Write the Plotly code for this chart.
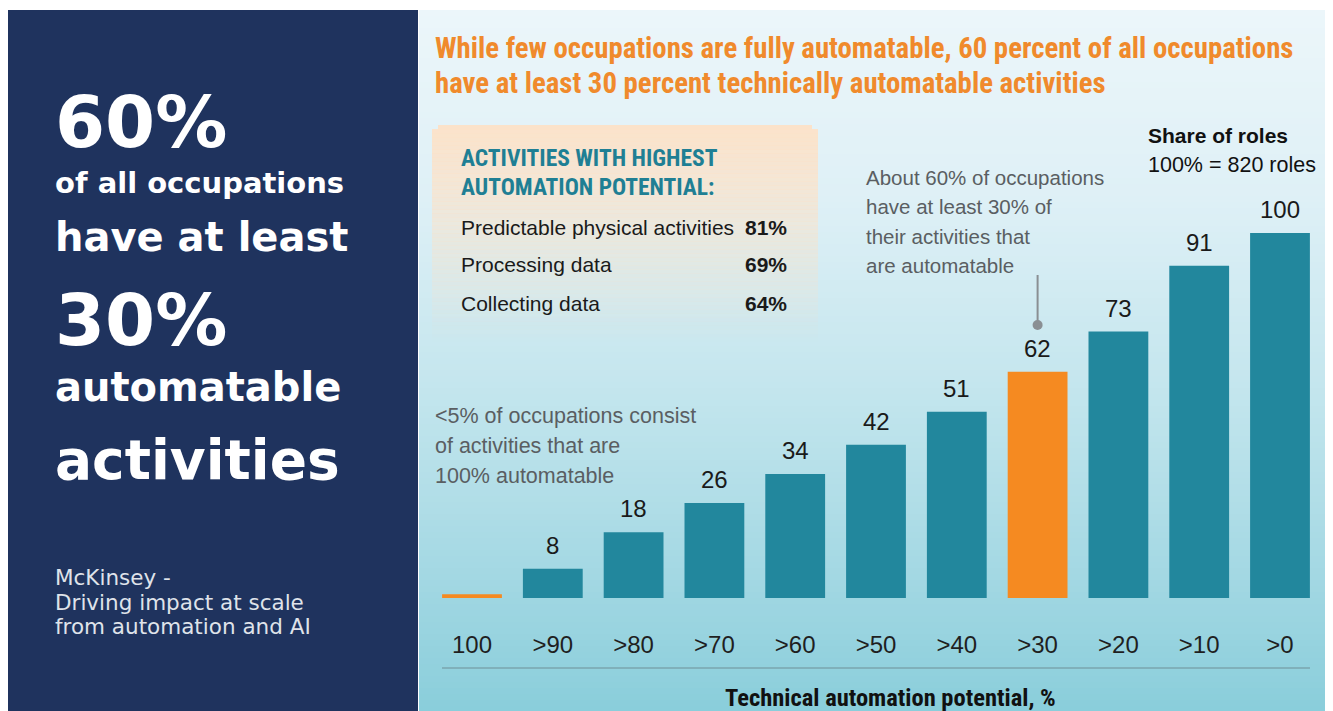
import plotly.graph_objects as go

W, H = 1333, 711
OFF = 8  # page body margin of the browser

categories = ["100", ">90", ">80", ">70", ">60", ">50", ">40", ">30", ">20", ">10", ">0"]
share_of_roles = [1, 8, 18, 26, 34, 42, 51, 62, 73, 91, 100]
highlight = [True, False, False, False, False, False, False, True, False, False, False]

box_items = ["Predictable physical activities", "Processing data", "Collecting data"]
box_values = ["81%", "69%", "64%"]

TEAL = "#22879d"
ORANGE = "#f58a21"
NAVY = "#1f335e"
NARROW = "Liberation Sans Narrow, Roboto Condensed, Arial Narrow, Roboto, sans-serif"
SANS = "Liberation Sans, Arial, Helvetica, sans-serif"
VERD = "DejaVu Sans, Verdana, sans-serif"


def px(x):
    return (x - OFF) / W


def py(y):
    return 1 - (y - OFF) / H


def lerp(c1, c2, t):
    return tuple(round(a + (b - a) * t) for a, b in zip(c1, c2))


shapes = []

# left navy panel
shapes.append(dict(type="rect", xref="paper", yref="paper", x0=0, x1=px(418),
                   y0=0, y1=py(10), fillcolor=NAVY, line=dict(width=0), layer="below"))

# right panel vertical gradient
stops = [(10, (236, 246, 250)), (200, (222, 240, 246)), (400, (194, 229, 237)),
         (560, (166, 217, 228)), (720, (136, 205, 218))]
step = 6
y = 10
while y < 720:
    yc = y + step / 2
    c = stops[-1][1]
    for i in range(len(stops) - 1):
        if stops[i][0] <= yc <= stops[i + 1][0]:
            t = (yc - stops[i][0]) / (stops[i + 1][0] - stops[i][0])
            c = lerp(stops[i][1], stops[i + 1][1], t)
            break
    shapes.append(dict(type="rect", xref="paper", yref="paper", x0=px(419), x1=1,
                       y0=max(py(y + step + 0.5), 0), y1=py(y), fillcolor="rgb(%d,%d,%d)" % c,
                       line=dict(width=0), layer="below"))
    y += step

# peach callout box fading downward
by0, by1 = 125, 342
y = by0
while y < by1:
    t = (y - by0) / (by1 - by0)
    a = 0.92 * (1 - t) ** 1.1
    inset = 6 if y < by0 + 4 else 0
    shapes.append(dict(type="rect", xref="paper", yref="paper", x0=px(432 + inset), x1=px(818 - inset),
                       y0=py(min(y + 4.5, by1)), y1=py(y), fillcolor="rgba(253,225,198,%.3f)" % a,
                       line=dict(width=0), layer="below"))
    y += 4

# axis baseline under tick labels
shapes.append(dict(type="line", xref="paper", yref="paper", x0=px(442), x1=px(1310),
                   y0=py(668), y1=py(668), line=dict(color="#6f8f98", width=1.2)))

# connector lines with dots
for cat, ytop, ybot in [("100", 494, 546), (">30", 275, 325)]:
    shapes.append(dict(type="line", xref="x", yref="paper", x0=cat, x1=cat,
                       y0=py(ybot), y1=py(ytop), line=dict(color="#8a8f93", width=2)))
    shapes.append(dict(type="circle", xref="x", yref="paper", xsizemode="pixel", ysizemode="pixel",
                       xanchor=cat, yanchor=py(ybot), x0=-5, x1=5, y0=-5, y1=5,
                       fillcolor="#8a8f93", line=dict(width=0)))

fig = go.Figure()
fig.add_trace(go.Bar(
    x=categories, y=share_of_roles,
    marker=dict(color=[ORANGE if h else TEAL for h in highlight], line=dict(width=0)),
    width=0.74, hoverinfo="x+y",
))

annotations = []
# bar value labels
for c, v in zip(categories, share_of_roles):
    annotations.append(dict(x=c, y=v, xref="x", yref="y", text=str(v), showarrow=False,
                            yanchor="bottom", yshift=8,
                            font=dict(family=SANS, size=24, color="#1a1a1a")))


def txt(x, y, s, size, color, family=SANS, xanchor="left", bold=False):
    if bold:
        s = "<b>" + s + "</b>"
    annotations.append(dict(x=px(x), y=py(y), xref="paper", yref="paper", text=s, showarrow=False,
                            xanchor=xanchor, yanchor="middle",
                            font=dict(family=family, size=size, color=color)))


# left panel
txt(53, 122, "60%", 72, "white", VERD, bold=True)
txt(53, 183, "of all occupations", 29, "white", VERD, bold=True)
txt(53, 237, "have at least", 40, "white", VERD, bold=True)
txt(53, 320, "30%", 72, "white", VERD, bold=True)
txt(53, 387, "automatable", 40, "white", VERD, bold=True)
txt(53, 460, "activities", 55, "white", VERD, bold=True)
txt(53, 577, "McKinsey -", 21.5, "#dfe3ea", VERD)
txt(53, 602, "Driving impact at scale", 21.5, "#dfe3ea", VERD)
txt(53, 626, "from automation and AI", 21.5, "#dfe3ea", VERD)

# title
txt(433, 48, "While few occupations are fully automatable, 60 percent of all occupations", 28.8, "#f08a2c", NARROW, bold=True)
txt(433, 83, "have at least 30 percent technically automatable activities", 28.8, "#f08a2c", NARROW, bold=True)

# callout box
txt(459, 158, "ACTIVITIES WITH HIGHEST", 23.5, "#1f7f94", NARROW, bold=True)
txt(459, 187, "AUTOMATION POTENTIAL:", 23.5, "#1f7f94", NARROW, bold=True)
for i, (item, val) in enumerate(zip(box_items, box_values)):
    yy = 227 + i * 38
    txt(459, yy, item, 21, "#1a1a1a")
    txt(789, yy, val, 21, "#1a1a1a", xanchor="right", bold=True)

# share of roles
txt(1146, 136, "Share of roles", 21, "#111111", bold=True)
txt(1146, 165, "100% = 820 roles", 21.5, "#111111")

# about 60% note
for i, line in enumerate(["About 60% of occupations", "have at least 30% of",
                          "their activities that", "are automatable"]):
    txt(864, 177 + i * 29.5, line, 20.5, "#5a5e62")

# <5% note
for i, line in enumerate(["<5% of occupations consist", "of activities that are", "100% automatable"]):
    txt(433, 416 + i * 30, line, 21.5, "#5a5e62")

# axis title
txt(890, 697, "Technical automation potential, %", 24.5, "#111111", NARROW, xanchor="center", bold=True)

fig.update_layout(
    width=W, height=H,
    margin=dict(l=0, r=0, t=0, b=0),
    paper_bgcolor="white", plot_bgcolor="rgba(0,0,0,0)",
    showlegend=False,
    shapes=shapes, annotations=annotations,
    xaxis=dict(domain=[px(431.6), px(1320.4)], range=[-0.5, 10.5], showgrid=False, zeroline=False,
               showline=False, ticks="", ticklabelstandoff=30,
               tickfont=dict(family=SANS, size=24, color="#1f1f1f"), fixedrange=True),
    yaxis=dict(domain=[py(598), py(123.5)], range=[0, 130], visible=False, fixedrange=True),
)

fig.write_html("out.html")
